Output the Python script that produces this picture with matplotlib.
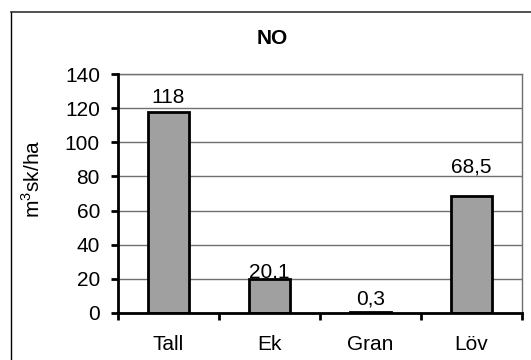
import matplotlib
matplotlib.use("Agg")
import matplotlib.pyplot as plt
from matplotlib.lines import Line2D
from matplotlib.transforms import offset_copy
import numpy as np

categories = ["Tall", "Ek", "Gran", "Löv"]
values = [118, 20.1, 0.3, 68.5]
value_labels = ["118", "20,1", "0,3", "68,5"]
yticks = [0, 20, 40, 60, 80, 100, 120, 140]

plt.rcParams['font.family'] = ['Liberation Sans', 'DejaVu Sans']
plt.rcParams['mathtext.fontset'] = 'custom'
plt.rcParams['mathtext.rm'] = 'Liberation Sans'

FS = 15
W, H = 531, 360
fig = plt.figure(figsize=(W/100, H/100), dpi=100)
ax = fig.add_axes([118/W, 1-313/H, (522-118)/W, (313-74)/H])

x = np.arange(len(categories))
ax.bar(x, values, width=0.4, color='#A0A0A0', edgecolor='black', linewidth=2, zorder=3)
# label gaps above bars (points), as placed in the original chart
label_gap_pt = [6, 1, 6, 17]
for xi, v, lab, g in zip(x, values, value_labels, label_gap_pt):
    tr = offset_copy(ax.transData, fig=fig, x=0, y=g, units='points')
    ax.text(xi, v, lab, ha='center', va='baseline', fontsize=FS, zorder=4, transform=tr)

ax.set_xlim(-0.5, len(categories) - 0.5)
ax.set_ylim(0, 140)
ax.set_yticks(yticks)
ax.set_yticklabels([str(t) for t in yticks], fontsize=FS)
ax.set_xticks(x)
ax.set_xticklabels(categories, fontsize=FS)
ax.tick_params(axis='x', which='major', length=0, pad=16)
ax.set_xticks(np.arange(-0.5, len(categories)), minor=True)
ax.tick_params(axis='x', which='minor', length=5, width=2, direction='out', color='black')
ax.tick_params(axis='y', length=5, width=2, direction='out', pad=8)

ax.yaxis.grid(True, color='#707070', linewidth=1, zorder=0)
for s in ['top', 'right']:
    ax.spines[s].set_color('#707070')
    ax.spines[s].set_linewidth(1)
for s in ['left', 'bottom']:
    ax.spines[s].set_color('black')
    ax.spines[s].set_linewidth(2)
    ax.spines[s].set_zorder(5)

fig.text(32/W, 1-179/H, r'm$^{3}$sk/ha', ha='center', va='center', rotation=90, fontsize=FS)

fig.text(272/W, 1-38/H, "NO", ha='center', va='center', fontsize=FS, fontweight='bold')

# outer chart border
fig.add_artist(Line2D([10.5/W, 10.5/W], [0, 1-12/H], color='black', linewidth=1, transform=fig.transFigure))
fig.add_artist(Line2D([10.5/W, 1], [1-12/H, 1-12/H], color='#333333', linewidth=1.2, transform=fig.transFigure))

fig.savefig("out.png", dpi=100)
